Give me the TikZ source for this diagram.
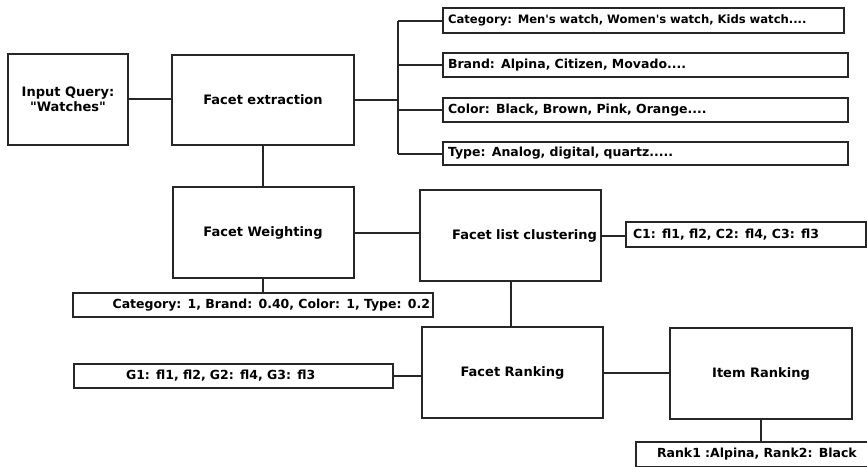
\documentclass[tikz,border=0pt]{standalone}
\usepackage{fontspec}
\setmainfont{DejaVu Sans}
\usetikzlibrary{positioning}
\definecolor{ink}{HTML}{262626}

\begin{document}
\begin{tikzpicture}[
  x=1pt,y=-1pt,
  font=\bfseries\fontsize{13}{15}\selectfont,
  blk/.style={draw=ink,line width=2pt,inner sep=0pt,minimum width=181,minimum height=91,align=center},
  lst/.style={draw=ink,line width=2pt,inner ysep=0pt,minimum height=24,font=\bfseries\fontsize{12.5}{14}\selectfont},
  wire/.style={draw=ink,line width=2pt}
]
\clip (0,0) rectangle (867,466);
\fill[white] (0,0) rectangle (867,466);
% main blocks
\node[blk,minimum width=120] (query) at (68,99) {Input Query:\\\textquotedbl Watches\textquotedbl};
\node[blk,minimum width=182,minimum height=90] (extract) at (263,100) {Facet extraction};
\node[blk] (weight) at (263,232.5) {Facet Weighting};
\node[blk,text width=173,align=right,inner xsep=4] (cluster) at (510.5,235.5) {Facet list clustering};
\node[blk] (frank) at (512.5,372.5) {Facet Ranking};
\node[blk,minimum width=182] (irank) at (761,373.5) {Item Ranking};
% facet lists
\node[lst,minimum height=25,text width=391,inner xsep=5,align=left,font=\bfseries\fontsize{11.6}{13}\selectfont] (fcat) at (643.5,20.5) {Category: Men\textquotesingle s watch, Women\textquotesingle s watch, Kids watch....};
\node[lst,text width=395,inner xsep=5,align=left] (fbrand) at (645.5,65) {Brand: Alpina, Citizen, Movado....};
\node[lst,text width=395,inner xsep=5,align=left] (fcolor) at (645.5,110) {Color: Black, Brown, Pink, Orange....};
\node[lst,minimum height=23,text width=395,inner xsep=5,align=left] (ftype) at (645.5,153.5) {Type: Analog, digital, quartz.....};
\node[lst,text width=354,inner xsep=3,align=right] (wlist) at (253,305) {Category: 1, Brand: 0.40, Color: 1, Type: 0.2};
\node[lst,minimum height=25,text width=226,inner xsep=7,align=left] (clist) at (746,234.5) {C1: fl1, fl2, C2: fl4, C3: fl3};
\node[lst,text width=215,inner xsep=52,align=left] (glist) at (233.5,376) {G1: fl1, fl2, G2: fl4, G3: fl3};
\node[lst,minimum height=25,text width=202,inner xsep=21,align=left] (rlist) at (758,454.5) {Rank1 :Alpina, Rank2: Black};
% connectors
\draw[wire] (query.east) -- (query.east -| extract.west);
\draw[wire] (extract.east) -- ++(43,0) coordinate (br);
\draw[wire] (br |- fcat.west) -- (br |- ftype.west);
\foreach \f in {fcat,fbrand,fcolor,ftype}
  \draw[wire] (br |- \f.west) -- (\f.west);
\draw[wire] (extract.south) -- (weight.north);
\draw[wire] (weight.east) -- (weight.east -| cluster.west);
\draw[wire] (weight.south) -- (weight.south |- wlist.north);
\draw[wire] (cluster.east) -- (cluster.east -| clist.west);
\draw[wire] (cluster.south) -- (cluster.south |- frank.north);
\draw[wire] (glist.east) -- (glist.east -| frank.west);
\draw[wire] (frank.east) -- (frank.east -| irank.west);
\draw[wire] (irank.south) -- (irank.south |- rlist.north);
\end{tikzpicture}
\end{document}
